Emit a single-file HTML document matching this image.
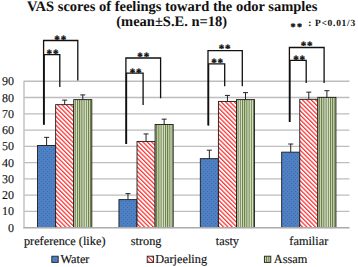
<!DOCTYPE html>
<html><head><meta charset="utf-8"><style>
html,body{margin:0;padding:0;background:#fff;width:358px;height:267px;overflow:hidden}
svg{display:block}
text{font-family:"Liberation Serif",serif;text-rendering:geometricPrecision}
</style></head><body>
<svg width="358" height="267" viewBox="0 0 358 267">
<defs>
<pattern id="pb" width="4" height="4" patternUnits="userSpaceOnUse">
<rect width="4" height="4" fill="#4f80c4"/><rect x="1" y="1" width="1" height="1" fill="#3d6aa8"/><rect x="3" y="3" width="1" height="1" fill="#3f6eae"/>
</pattern>
<pattern id="pr" width="3.1" height="3.1" patternUnits="userSpaceOnUse" patternTransform="rotate(-45)">
<rect width="3.1" height="3.1" fill="#fff"/><rect width="1.25" height="3.1" fill="#ff3030"/>
</pattern>
<pattern id="pg" width="2.2" height="4" patternUnits="userSpaceOnUse">
<rect width="2.2" height="4" fill="#dde2d0"/><rect x="0" width="1.0" height="4" fill="#5d7a35"/>
</pattern>
</defs>

<line x1="24" y1="211.34" x2="349.5" y2="211.34" stroke="#bdbdbd" stroke-width="1.3"/>
<line x1="24" y1="195.08" x2="349.5" y2="195.08" stroke="#bdbdbd" stroke-width="1.3"/>
<line x1="24" y1="178.82" x2="349.5" y2="178.82" stroke="#bdbdbd" stroke-width="1.3"/>
<line x1="24" y1="162.56" x2="349.5" y2="162.56" stroke="#bdbdbd" stroke-width="1.3"/>
<line x1="24" y1="146.30" x2="349.5" y2="146.30" stroke="#bdbdbd" stroke-width="1.3"/>
<line x1="24" y1="130.04" x2="349.5" y2="130.04" stroke="#bdbdbd" stroke-width="1.3"/>
<line x1="24" y1="113.78" x2="349.5" y2="113.78" stroke="#bdbdbd" stroke-width="1.3"/>
<line x1="24" y1="97.52" x2="349.5" y2="97.52" stroke="#bdbdbd" stroke-width="1.3"/>
<line x1="24" y1="81.26" x2="349.5" y2="81.26" stroke="#bdbdbd" stroke-width="1.3"/>
<line x1="24" y1="80.66" x2="24" y2="227.60" stroke="#c2c2c2" stroke-width="1.5"/>
<text x="13.9" y="231.60" font-size="12" text-anchor="end" fill="#111" stroke="#111" stroke-width="0.1">0</text>
<text x="13.9" y="215.34" font-size="12" text-anchor="end" fill="#111" stroke="#111" stroke-width="0.1">10</text>
<text x="13.9" y="199.08" font-size="12" text-anchor="end" fill="#111" stroke="#111" stroke-width="0.1">20</text>
<text x="13.9" y="182.82" font-size="12" text-anchor="end" fill="#111" stroke="#111" stroke-width="0.1">30</text>
<text x="13.9" y="166.56" font-size="12" text-anchor="end" fill="#111" stroke="#111" stroke-width="0.1">40</text>
<text x="13.9" y="150.30" font-size="12" text-anchor="end" fill="#111" stroke="#111" stroke-width="0.1">50</text>
<text x="13.9" y="134.04" font-size="12" text-anchor="end" fill="#111" stroke="#111" stroke-width="0.1">60</text>
<text x="13.9" y="117.78" font-size="12" text-anchor="end" fill="#111" stroke="#111" stroke-width="0.1">70</text>
<text x="13.9" y="101.52" font-size="12" text-anchor="end" fill="#111" stroke="#111" stroke-width="0.1">80</text>
<text x="13.9" y="85.26" font-size="12" text-anchor="end" fill="#111" stroke="#111" stroke-width="0.1">90</text>
<rect x="37.56" y="145.49" width="18.08" height="82.11" fill="url(#pb)" stroke="#1a1a1a" stroke-width="0.9"/>
<line x1="46.60" y1="137.36" x2="46.60" y2="145.49" stroke="#222" stroke-width="1"/>
<line x1="44.10" y1="137.36" x2="49.10" y2="137.36" stroke="#222" stroke-width="1"/>
<rect x="55.65" y="104.67" width="18.08" height="122.93" fill="url(#pr)" stroke="#1a1a1a" stroke-width="0.9"/>
<line x1="64.69" y1="100.12" x2="64.69" y2="104.67" stroke="#222" stroke-width="1"/>
<line x1="62.19" y1="100.12" x2="67.19" y2="100.12" stroke="#222" stroke-width="1"/>
<rect x="73.73" y="99.63" width="18.08" height="127.97" fill="url(#pg)" stroke="#1a1a1a" stroke-width="0.9"/>
<line x1="82.77" y1="94.92" x2="82.77" y2="99.63" stroke="#222" stroke-width="1"/>
<line x1="80.27" y1="94.92" x2="85.27" y2="94.92" stroke="#222" stroke-width="1"/>
<rect x="118.94" y="199.63" width="18.08" height="27.97" fill="url(#pb)" stroke="#1a1a1a" stroke-width="0.9"/>
<line x1="127.98" y1="193.62" x2="127.98" y2="199.63" stroke="#222" stroke-width="1"/>
<line x1="125.48" y1="193.62" x2="130.48" y2="193.62" stroke="#222" stroke-width="1"/>
<rect x="137.02" y="141.42" width="18.08" height="86.18" fill="url(#pr)" stroke="#1a1a1a" stroke-width="0.9"/>
<line x1="146.06" y1="133.94" x2="146.06" y2="141.42" stroke="#222" stroke-width="1"/>
<line x1="143.56" y1="133.94" x2="148.56" y2="133.94" stroke="#222" stroke-width="1"/>
<rect x="155.10" y="124.51" width="18.08" height="103.09" fill="url(#pg)" stroke="#1a1a1a" stroke-width="0.9"/>
<line x1="164.15" y1="119.15" x2="164.15" y2="124.51" stroke="#222" stroke-width="1"/>
<line x1="161.65" y1="119.15" x2="166.65" y2="119.15" stroke="#222" stroke-width="1"/>
<rect x="200.31" y="158.66" width="18.08" height="68.94" fill="url(#pb)" stroke="#1a1a1a" stroke-width="0.9"/>
<line x1="209.35" y1="150.20" x2="209.35" y2="158.66" stroke="#222" stroke-width="1"/>
<line x1="206.85" y1="150.20" x2="211.85" y2="150.20" stroke="#222" stroke-width="1"/>
<rect x="218.40" y="101.42" width="18.08" height="126.18" fill="url(#pr)" stroke="#1a1a1a" stroke-width="0.9"/>
<line x1="227.44" y1="95.41" x2="227.44" y2="101.42" stroke="#222" stroke-width="1"/>
<line x1="224.94" y1="95.41" x2="229.94" y2="95.41" stroke="#222" stroke-width="1"/>
<rect x="236.48" y="99.63" width="18.08" height="127.97" fill="url(#pg)" stroke="#1a1a1a" stroke-width="0.9"/>
<line x1="245.52" y1="92.64" x2="245.52" y2="99.63" stroke="#222" stroke-width="1"/>
<line x1="243.02" y1="92.64" x2="248.02" y2="92.64" stroke="#222" stroke-width="1"/>
<rect x="281.69" y="152.15" width="18.08" height="75.45" fill="url(#pb)" stroke="#1a1a1a" stroke-width="0.9"/>
<line x1="290.73" y1="144.02" x2="290.73" y2="152.15" stroke="#222" stroke-width="1"/>
<line x1="288.23" y1="144.02" x2="293.23" y2="144.02" stroke="#222" stroke-width="1"/>
<rect x="299.77" y="99.31" width="18.08" height="128.29" fill="url(#pr)" stroke="#1a1a1a" stroke-width="0.9"/>
<line x1="308.81" y1="92.15" x2="308.81" y2="99.31" stroke="#222" stroke-width="1"/>
<line x1="306.31" y1="92.15" x2="311.31" y2="92.15" stroke="#222" stroke-width="1"/>
<rect x="317.85" y="97.36" width="18.08" height="130.24" fill="url(#pg)" stroke="#1a1a1a" stroke-width="0.9"/>
<line x1="326.90" y1="90.69" x2="326.90" y2="97.36" stroke="#222" stroke-width="1"/>
<line x1="324.40" y1="90.69" x2="329.40" y2="90.69" stroke="#222" stroke-width="1"/>
<line x1="23.3" y1="227.80" x2="349.5" y2="227.80" stroke="#aaaaaa" stroke-width="1.5"/>
<polyline points="43.6,124.8 43.6,40.5 77.8,40.5 77.8,80.4" fill="none" stroke="#111" stroke-width="1.3"/>
<polyline points="44.2,124.8 44.2,54.7 59.8,54.7 59.8,87.0" fill="none" stroke="#111" stroke-width="1.3"/>
<text x="57.00" y="42.66" font-size="11" font-weight="bold" text-anchor="middle" fill="#111" stroke="#111" stroke-width="0.35">*</text>
<text x="63.40" y="42.66" font-size="11" font-weight="bold" text-anchor="middle" fill="#111" stroke="#111" stroke-width="0.35">*</text>
<text x="49.30" y="57.16" font-size="11" font-weight="bold" text-anchor="middle" fill="#111" stroke="#111" stroke-width="0.35">*</text>
<text x="55.70" y="57.16" font-size="11" font-weight="bold" text-anchor="middle" fill="#111" stroke="#111" stroke-width="0.35">*</text>
<polyline points="125.9,144.1 125.9,58.0 160.6,58.0 160.6,98.3" fill="none" stroke="#111" stroke-width="1.3"/>
<polyline points="126.5,144.1 126.5,73.1 143.1,73.1 143.1,105.1" fill="none" stroke="#111" stroke-width="1.3"/>
<text x="140.05" y="60.26" font-size="11" font-weight="bold" text-anchor="middle" fill="#111" stroke="#111" stroke-width="0.35">*</text>
<text x="146.45" y="60.26" font-size="11" font-weight="bold" text-anchor="middle" fill="#111" stroke="#111" stroke-width="0.35">*</text>
<text x="132.45" y="75.56" font-size="11" font-weight="bold" text-anchor="middle" fill="#111" stroke="#111" stroke-width="0.35">*</text>
<text x="138.85" y="75.56" font-size="11" font-weight="bold" text-anchor="middle" fill="#111" stroke="#111" stroke-width="0.35">*</text>
<polyline points="208.0,125.4 208.0,50.7 242.3,50.7 242.3,86.2" fill="none" stroke="#111" stroke-width="1.3"/>
<polyline points="208.6,125.4 208.6,63.8 224.7,63.8 224.7,86.2" fill="none" stroke="#111" stroke-width="1.3"/>
<text x="221.40" y="52.36" font-size="11" font-weight="bold" text-anchor="middle" fill="#111" stroke="#111" stroke-width="0.35">*</text>
<text x="227.80" y="52.36" font-size="11" font-weight="bold" text-anchor="middle" fill="#111" stroke="#111" stroke-width="0.35">*</text>
<text x="213.90" y="66.26" font-size="11" font-weight="bold" text-anchor="middle" fill="#111" stroke="#111" stroke-width="0.35">*</text>
<text x="220.30" y="66.26" font-size="11" font-weight="bold" text-anchor="middle" fill="#111" stroke="#111" stroke-width="0.35">*</text>
<polyline points="289.4,122.0 289.4,47.5 324.1,47.5 324.1,83.0" fill="none" stroke="#111" stroke-width="1.3"/>
<polyline points="290.0,122.0 290.0,60.3 306.2,60.3 306.2,83.0" fill="none" stroke="#111" stroke-width="1.3"/>
<text x="303.40" y="49.16" font-size="11" font-weight="bold" text-anchor="middle" fill="#111" stroke="#111" stroke-width="0.35">*</text>
<text x="309.80" y="49.16" font-size="11" font-weight="bold" text-anchor="middle" fill="#111" stroke="#111" stroke-width="0.35">*</text>
<text x="295.90" y="63.06" font-size="11" font-weight="bold" text-anchor="middle" fill="#111" stroke="#111" stroke-width="0.35">*</text>
<text x="302.30" y="63.06" font-size="11" font-weight="bold" text-anchor="middle" fill="#111" stroke="#111" stroke-width="0.35">*</text>
<text x="172.2" y="10.5" font-size="14.5" font-weight="bold" text-anchor="middle" fill="#111">VAS scores of feelings toward the odor samples</text>
<text x="171.7" y="25.8" font-size="14.5" font-weight="bold" text-anchor="middle" fill="#111">(mean±S.E. n=18)</text>
<text x="292.90" y="29.50" font-size="10" font-weight="bold" text-anchor="middle" fill="#111" stroke="#111" stroke-width="0.35">*</text>
<text x="299.40" y="29.50" font-size="10" font-weight="bold" text-anchor="middle" fill="#111" stroke="#111" stroke-width="0.35">*</text>
<text x="308.3" y="26" font-size="9.5" font-weight="bold" fill="#111">:</text>
<text x="315" y="26" font-size="9.5" font-weight="bold" fill="#111" letter-spacing="0.7">P&lt;0.01/3</text>
<text x="64.7" y="244.8" font-size="12.3" text-anchor="middle" fill="#111" stroke="#111" stroke-width="0.15">preference (like)</text>
<text x="146.1" y="244.8" font-size="12.3" text-anchor="middle" fill="#111" stroke="#111" stroke-width="0.15">strong</text>
<text x="227.4" y="244.8" font-size="12.3" text-anchor="middle" fill="#111" stroke="#111" stroke-width="0.15">tasty</text>
<text x="308.8" y="244.8" font-size="12.3" text-anchor="middle" fill="#111" stroke="#111" stroke-width="0.15">familiar</text>
<rect x="51.8" y="256.2" width="6.4" height="6.2" fill="url(#pb)" stroke="#222" stroke-width="0.9"/>
<text x="60.4" y="263.4" font-size="12.3" fill="#111" stroke="#111" stroke-width="0.15">Water</text>
<rect x="147.2" y="256.2" width="6.4" height="6.2" fill="url(#pr)" stroke="#222" stroke-width="0.9"/>
<text x="155.2" y="263.4" font-size="12.3" fill="#111" stroke="#111" stroke-width="0.15">Darjeeling</text>
<rect x="264.4" y="256.2" width="6.4" height="6.2" fill="url(#pg)" stroke="#222" stroke-width="0.9"/>
<text x="273.8" y="263.4" font-size="12.3" fill="#111" stroke="#111" stroke-width="0.15">Assam</text>
</svg></body></html>
